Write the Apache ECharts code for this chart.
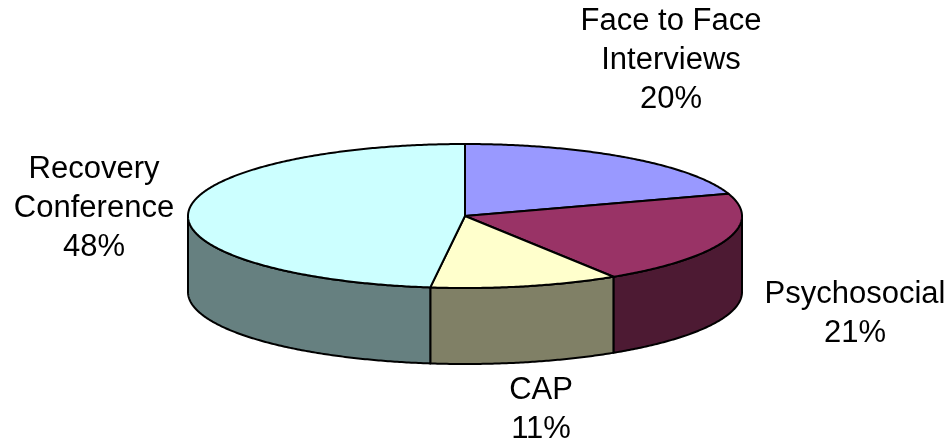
<!DOCTYPE html>
<html>
<head>
<meta charset="utf-8">
<script src="https://cdn.jsdelivr.net/npm/echarts@6/dist/echarts.min.js"></script>
<style>
html, body { margin: 0; padding: 0; background: #ffffff; }
#chart { width: 952px; height: 444px; }
</style>
</head>
<body>
<div id="chart"></div>
<script>
// Session types and their share of the total (percent)
const categories = ['Face to Face\nInterviews', 'Psychosocial', 'CAP', 'Recovery\nConference'];
const shares = [20, 21, 11, 48];

// Fill colours for the top faces and the darker side walls
const topColors = ['#9999FF', '#993366', '#FFFFCC', '#CCFFFF'];
const sideColors = ['#5C5C99', '#4D1A33', '#808066', '#668080'];

// Centre of each label block (pixels)
const labelCenters = [[671, 60], [855, 314], [541, 410], [94, 208]];

// Disc geometry: ellipse centre, radii and thickness
const CX = 465, CY = 216, RX = 277, RY = 72, DEPTH = 76;

const total = shares.reduce((a, b) => a + b, 0);
const starts = [];
let acc = 0;
shares.forEach(v => { starts.push(acc); acc += v; });

// Point on the rim, angle in degrees clockwise from 12 o'clock
function rimPoint(deg, dy) {
  const r = deg * Math.PI / 180;
  return [CX + RX * Math.sin(r), CY - RY * Math.cos(r) + (dy || 0)];
}
function rimArc(a, b, dy) {
  const n = Math.max(2, Math.ceil((b - a) * 2));
  const pts = [];
  for (let i = 0; i <= n; i++) pts.push(rimPoint(a + (b - a) * i / n, dy));
  return pts;
}

function renderItem(params, api) {
  const i = params.dataIndex;
  const v = api.value(0);
  const s = api.value(1);
  const a = s / total * 360;
  const b = (s + v) / total * 360;
  const children = [];

  // Front wall: only the part of the rim facing the viewer (90..270 deg)
  const fa = Math.max(a, 90), fb = Math.min(b, 270);
  if (fb > fa) {
    const upper = rimArc(fa, fb, 0);
    const lower = rimArc(fa, fb, DEPTH).reverse();
    children.push({
      type: 'polygon',
      shape: { points: upper.concat(lower) },
      style: { fill: sideColors[i], stroke: '#000', lineWidth: 2, lineJoin: 'round' },
      z2: 1
    });
  }

  // Top face of the slice
  children.push({
    type: 'polygon',
    shape: { points: [[CX, CY]].concat(rimArc(a, b, 0)) },
    style: { fill: topColors[i], stroke: '#000', lineWidth: 2, lineJoin: 'round' },
    z2: 2
  });

  // Category label with percentage
  children.push({
    type: 'text',
    x: labelCenters[i][0],
    y: labelCenters[i][1],
    style: {
      text: categories[i] + '\n' + v + '%',
      fill: '#000',
      fontSize: 31,
      fontFamily: '"Liberation Sans", Arial, sans-serif',
      lineHeight: 39,
      align: 'center',
      verticalAlign: 'middle'
    },
    z2: 3
  });

  return { type: 'group', children: children };
}

const chart = echarts.init(document.getElementById('chart'), null, { renderer: 'canvas' });
chart.setOption({
  animation: false,
  backgroundColor: '#ffffff',
  series: [{
    type: 'custom',
    coordinateSystem: 'none',
    silent: true,
    renderItem: renderItem,
    data: shares.map((v, i) => [v, starts[i]])
  }]
});
</script>
</body>
</html>
